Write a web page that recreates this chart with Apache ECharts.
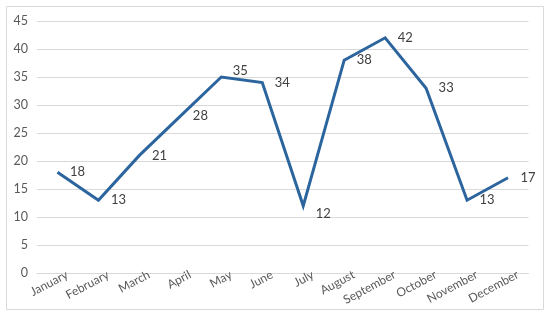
<!DOCTYPE html>
<html><head><meta charset="utf-8">
<script src="https://cdn.jsdelivr.net/npm/echarts@6/dist/echarts.min.js"></script>
<style>html,body{margin:0;padding:0;background:#fff}#c{width:550px;height:322px}</style>
</head><body><div id="c"></div>
<script>
const categories = ['January','February','March','April','May','June','July','August','September','October','November','December'];
const values = [18,13,21,28,35,34,12,38,42,33,13,17];
const yTicks = {min:0, max:45, interval:5};

const labelTweaks = {4:[-1,-6], 6:[0,8]};
const seriesData = values.map((v,i) => labelTweaks[i] ? {value:v, label:{offset:labelTweaks[i]}} : v);

const chart = echarts.init(document.getElementById('c'), null, {renderer:'canvas'});
chart.setOption({
  animation:false,
  backgroundColor:'#fff',
  graphic:[{type:'rect', shape:{x:6.5,y:6.5,width:537,height:303}, style:{fill:'none', stroke:'#d9d9d9', lineWidth:1}}],
  grid:{left:37, right:21.5, top:21, bottom:49, containLabel:false},
  xAxis:{type:'category', data:categories, boundaryGap:true,
    axisLine:{show:true, lineStyle:{color:'#d9d9d9', width:1}},
    axisTick:{show:false},
    axisLabel:{rotate:28, color:'#595959', fontFamily:'Lato', fontSize:12, margin:6, interval:0, padding:[0,-11,0,0]}
  },
  yAxis:{type:'value', min:yTicks.min, max:yTicks.max, interval:yTicks.interval,
    axisLine:{show:false}, axisTick:{show:false},
    splitLine:{lineStyle:{color:'#d9d9d9', width:1}},
    axisLabel:{color:'#595959', fontFamily:'Lato', fontSize:12.5, margin:9}
  },
  series:[{type:'line', data:seriesData, showSymbol:true, symbol:'circle', symbolSize:1,
    itemStyle:{color:'#2C659E', opacity:0},
    lineStyle:{color:'#2C659E', width:3, join:'miter', miterLimit:10},
    label:{show:true, position:'right', distance:12, color:'#404040', fontFamily:'Lato', fontSize:13, opacity:1}
  }]
});
</script></body></html>
